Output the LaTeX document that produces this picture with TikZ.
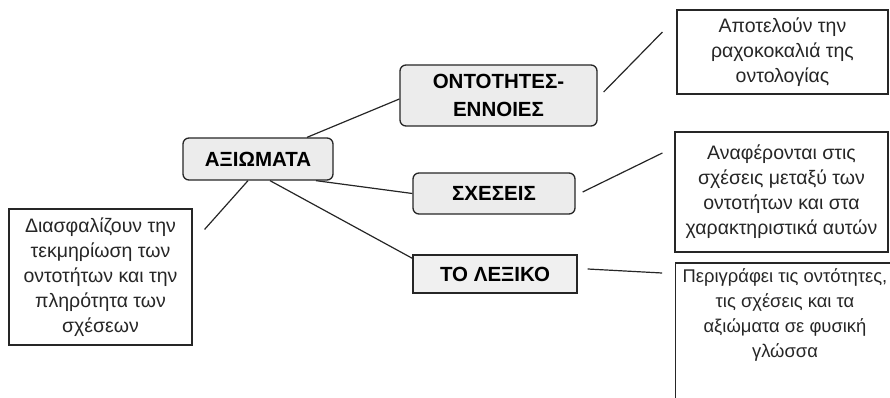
\documentclass[tikz,border=0pt]{standalone}
\usepackage{fontspec}
\setmainfont{Liberation Sans}
\usetikzlibrary{calc}
\begin{document}
\begin{tikzpicture}[x=1pt,y=-1pt,
  concept/.style={draw=black!85,line width=1.3pt,rounded corners=6pt,fill=gray!15,
    font=\fontsize{20.5}{28}\selectfont\bfseries,align=center,inner sep=0pt},
  termbox/.style={draw=black!85,line width=1.3pt,fill=gray!12,
    font=\fontsize{20.5}{28}\selectfont\bfseries,align=center,inner sep=0pt},
  note/.style={draw=black!85,line width=1.2pt,fill=white,
    font=\fontsize{19.5}{25}\selectfont,align=center,inner sep=0pt,text=black!85},
  boxline/.style={draw=black!85,line width=1.2pt},
  link/.style={line width=1.2pt,draw=black!85}]
\useasboundingbox (0,0) rectangle (890,398);
\clip (0,0) rectangle (890,398);

% concept boxes
\node[concept,minimum width=150pt,minimum height=42pt] (ax) at (258,159) {ΑΞΙΩΜΑΤΑ};
\node[concept,minimum width=197pt,minimum height=61pt] (ont) at (498.5,95.5) {ΟΝΤΟΤΗΤΕΣ-\\ΕΝΝΟΙΕΣ};
\node[concept,minimum width=162pt,minimum height=41pt] (sx) at (494,193.5) {ΣΧΕΣΕΙΣ};
\node[termbox,minimum width=164pt,minimum height=38pt] (lex) at (495,274) {ΤΟ ΛΕΞΙΚΟ};

% note boxes
\node[note,minimum width=211pt,minimum height=84pt] (tr) at (782.5,52) {Αποτελούν την\\ραχοκοκαλιά της\\οντολογίας};
\node[note,minimum width=213pt,minimum height=120pt] (mr) at (781.5,192) {Αναφέρονται στις\\σχέσεις μεταξύ των\\οντοτήτων και στα\\χαρακτηριστικά αυτών};
\node[note,draw=none,fill=none,font=\fontsize{18.4}{25}\selectfont] (br) at (785,315) {Περιγράφει τις οντότητες,\\τις σχέσεις και τα\\αξιώματα σε φυσική\\γλώσσα};
\draw[boxline] ($(br.north west)+(-6.5,-5)$) rectangle ($(br.south east)+(12,50)$);
\node[note,minimum width=183pt,minimum height=136pt] (lb) at (100.5,277) {Διασφαλίζουν την\\τεκμηρίωση των\\οντοτήτων και την\\πληρότητα των\\σχέσεων};

% free ends of connectors
\coordinate (lbend) at ($(lb.north east)+(12,21)$);
\coordinate (ontA) at ($(ont.east)+(6,-3.5)$);
\coordinate (trA) at ($(tr.west)+(-14,-20)$);
\coordinate (sxA) at ($(sx.east)+(7,-1.5)$);
\coordinate (mrA) at ($(mr.west)+(-12,-39)$);
\coordinate (lexA) at ($(lex.east)+(10,-5)$);
\coordinate (brA) at ($(br.west)+(-20,-42)$);

% connectors
\draw[link] ($(ax.north)+(49,0)$) -- ($(ont.west)+(0,3.5)$);
\draw[link] ($(ax.south)+(58,0)$) -- (sx.west);
\draw[link] ($(ax.south)+(12,0)$) -- ($(lex.north west)+(0,4)$);
\draw[link] ($(ax.south)+(-10,0)$) -- (lbend);
\draw[link] (ontA) -- (trA);
\draw[link] (sxA) -- (mrA);
\draw[link] (lexA) -- (brA);
\end{tikzpicture}
\end{document}
